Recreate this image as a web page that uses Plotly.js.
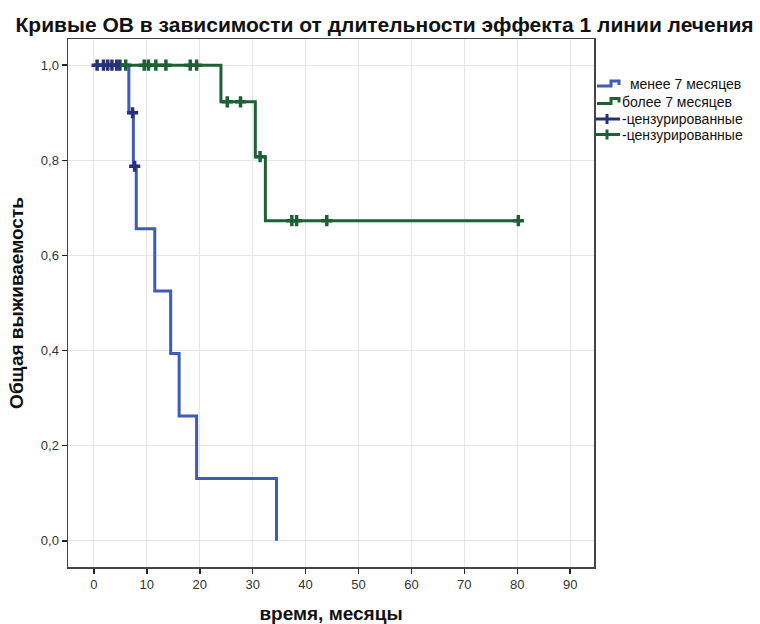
<!DOCTYPE html>
<html>
<head>
<meta charset="utf-8">
<script src="https://cdn.plot.ly/plotly-3.0.1.min.js"></script>
<style>html,body{margin:0;padding:0;background:#fff;}#chart{width:760px;height:624px;}</style>
</head>
<body>
<div id="chart"></div>
<script>
// Kaplan-Meier step curves (time in months, survival)
var lowTimes = [0, 6.6, 7.45, 8.0, 11.5, 14.5, 16.1, 19.4, 34.5];
var lowSurv  = [1, 0.9, 0.7875, 0.65625, 0.525, 0.39375, 0.2625, 0.13125, 0];
var highTimes = [0, 24.0, 30.5, 32.4, 80.2];
var highSurv  = [1, 0.923, 0.8077, 0.673, 0.673];

// censored observations
var lowCensTimes = [0.6, 1.8, 2.6, 3.4, 4.3, 4.9, 7.3, 7.7];
var lowCensSurv  = [1, 1, 1, 1, 1, 1, 0.9, 0.7875];
var highCensTimes = [6.0, 9.5, 10.3, 11.7, 13.6, 18.2, 19.4, 25.2, 27.7, 31.4, 37.4, 38.3, 44.0, 80.2];
var highCensSurv  = [1, 1, 1, 1, 1, 1, 1, 0.923, 0.923, 0.8077, 0.673, 0.673, 0.673, 0.673];

var seriesNames = [' менее 7 месяцев', 'более 7 месяцев', '-цензурированные', '-цензурированные'];
var xTicks = [0, 10, 20, 30, 40, 50, 60, 70, 80, 90];
var yTicks = [0, 0.2, 0.4, 0.6, 0.8, 1.0];

var blue = '#3f5bb8', navy = '#28307a', green = '#1d5f36';
var seriesColors = [blue, green, navy, green];

var traces = [
  {x: lowTimes, y: lowSurv, mode: 'lines', line: {shape: 'hv', color: blue, width: 3}, name: seriesNames[0]},
  {x: highTimes, y: highSurv, mode: 'lines', line: {shape: 'hv', color: green, width: 3}, name: seriesNames[1]},
  {x: lowCensTimes, y: lowCensSurv, mode: 'markers', name: seriesNames[2],
   marker: {symbol: 'cross-thin', size: 8, color: navy, line: {color: navy, width: 3.5}}},
  {x: highCensTimes, y: highCensSurv, mode: 'markers', name: seriesNames[3],
   marker: {symbol: 'cross-thin', size: 8, color: green, line: {color: green, width: 3.5}}}
];

// plot area in pixels (for the hand-drawn legend in the right margin)
var M = {l: 68, r: 166, t: 39, b: 57}, W = 760, H = 624;
var pw = W - M.l - M.r, ph = H - M.t - M.b;
function px(v) { return (v - M.l) / pw; }
function py(v) { return (H - M.b - v) / ph; }

var legendRows = [84, 101.5, 119, 134.5];
var legendTextX = [624, 620, 620, 620];
var shapes = [], annotations = [];
legendRows.forEach(function (yc, i) {
  var c = seriesColors[i];
  if (i < 2) {
    // step icon
    var p = 'M' + px(597) + ',' + py(yc + 2) + ' L' + px(611) + ',' + py(yc + 2) +
            ' L' + px(611) + ',' + py(yc - 3) + ' L' + px(619) + ',' + py(yc - 3) +
            ' L' + px(619) + ',' + py(yc + 1);
    shapes.push({type: 'path', xref: 'paper', yref: 'paper', path: p,
                 line: {color: c, width: 3}});
  } else {
    shapes.push({type: 'line', xref: 'paper', yref: 'paper', x0: px(596), x1: px(620),
                 y0: py(yc), y1: py(yc), line: {color: c, width: 3}});
    shapes.push({type: 'line', xref: 'paper', yref: 'paper', x0: px(607), x1: px(607),
                 y0: py(yc - 5), y1: py(yc + 5), line: {color: c, width: 3}});
  }
  annotations.push({xref: 'paper', yref: 'paper', x: px(legendTextX[i]), y: py(yc),
                    xanchor: 'left', yanchor: 'middle', showarrow: false,
                    text: seriesNames[i], font: {size: 14, color: '#111'}});
});

var layout = {
  width: W, height: H,
  margin: M,
  paper_bgcolor: '#fff', plot_bgcolor: '#fff',
  separators: ', ',
  font: {family: 'Liberation Sans, Arial, sans-serif', size: 12, color: '#333'},
  title: {text: 'Кривые ОВ в зависимости от длительности эффекта 1 линии лечения',
          font: {family: 'Liberation Sans, Arial, sans-serif', size: 21, color: '#111', weight: 'bold'},
          x: 0.506, xanchor: 'center', y: 0.96, yanchor: 'middle', xref: 'container', yref: 'container'},
  xaxis: {range: [-4.9, 94.5], tickvals: xTicks, ticktext: xTicks.map(String),
          showgrid: true, gridcolor: '#e6e6e6', gridwidth: 1, zeroline: false,
          showline: true, linecolor: '#444', linewidth: 1.5, mirror: true,
          ticks: 'outside', ticklen: 5, tickwidth: 1.5, tickcolor: '#222',
          tickfont: {size: 13, color: '#333'},
          title: {text: 'время, месяцы', font: {size: 19, color: '#111', weight: 'bold'}, standoff: 30}},
  yaxis: {range: [-0.055, 1.055], tickvals: yTicks, tickformat: '.1f',
          showgrid: true, gridcolor: '#e6e6e6', gridwidth: 1, zeroline: false,
          showline: true, linecolor: '#444', linewidth: 1.5, mirror: true,
          ticks: 'outside', ticklen: 5, tickwidth: 1.5, tickcolor: '#222',
          tickfont: {size: 13, color: '#333'},
          title: {text: 'Общая выживаемость', font: {size: 19, color: '#111', weight: 'bold'}, standoff: 12}},
  showlegend: false,
  shapes: shapes,
  annotations: annotations,
  hovermode: false
};

Plotly.newPlot('chart', traces, layout, {displayModeBar: false, staticPlot: true});
</script>
</body>
</html>
